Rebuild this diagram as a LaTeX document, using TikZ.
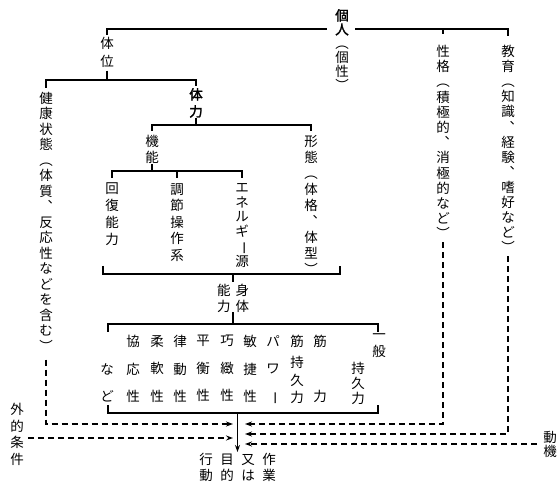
\documentclass[tikz,border=0pt]{standalone}
\usepackage{fontspec}
\usepackage{graphicx}
\usetikzlibrary{arrows.meta}
\newfontfamily\jp{Noto Sans CJK JP}
\newfontfamily\jpb[FakeBold=2]{Noto Sans CJK JP}
\newcommand\VL{\rotatebox[origin=c]{-90}{ー}}
\makeatletter
\newcommand\vt[2][15]{\vbox{\baselineskip=#1pt\lineskiplimit=-100pt\lineskip=0pt\vt@loop#2\relax}}
\def\vt@loop#1{\ifx\relax#1\else\hbox to 1em{\hss#1\hss}\expandafter\vt@loop\fi}
\makeatother
\begin{document}
\begin{tikzpicture}[x=1pt,y=-1pt,
  lab/.style={inner sep=0pt, anchor=north, font=\jp\fontsize{13.5}{15}\selectfont},
  ln/.style={line width=1.2pt},
  dsh/.style={line width=1.3pt, dash pattern=on 6pt off 4pt},
  tip/.style={-{Stealth[length=7pt,width=5pt]}}]
\useasboundingbox[fill=white] (0,0) rectangle (560,486);

% level coordinates
\coordinate (L0) at (0,29);
\coordinate (L1) at (0,80);
\coordinate (L2) at (0,125);
\coordinate (L3) at (0,171);
\coordinate (L4) at (0,274);
\coordinate (L5) at (0,324);
\coordinate (L6) at (0,413);
\coordinate (g1) at (327,29);
\coordinate (g2) at (355,29);
\coordinate (b1) at (103,266);
\coordinate (b2) at (340,266);
\coordinate (bx1) at (108,332);
\coordinate (bx2) at (378,332);
\coordinate (bx3) at (108,405);
\coordinate (bx4) at (378,405);
\coordinate (jl1) at (233,424);
\coordinate (jl2) at (233,438);
\coordinate (jr1) at (245,424);
\coordinate (jr2) at (245,434);
\coordinate (jr3) at (245,444);

% labels
\node[lab] (kojin) at (342,9) {\vt[14]{{\jpb 個}{\jpb 人}︵個性︶}};
\node[lab] (seikaku) at (443,45) {\vt[15.2]{性格︵積極的︑消極的など︶}};
\node[lab] (kyoiku) at (508,45) {\vt[15.1]{教育︵知識︑経験︑嗜好など︶}};
\node[lab] (taii) at (107,37) {\vt[18]{体位}};
\node[lab] (kenko) at (46,92) {\vt[15.5]{健康状態︵体質︑反応性などを含む︶}};
\node[lab] (tairyoku) at (196,88) {\vt[17]{{\jpb 体}{\jpb 力}}};
\node[lab] (kino) at (152,135) {\vt[16]{機能}};
\node[lab] (keitai) at (311,135) {\vt[16]{形態︵体格︑体型︶}};
\node[lab] (kaifuku) at (112,183) {\vt[17]{回復能力}};
\node[lab] (chosetsu) at (177,183) {\vt[16.5]{調節操作系}};
\node[lab] (energy) at (242,183) {\vt[14.8]{エネルギ\VL 源}};
\node[lab] (shintai) at (233,284) {\hbox{\vt[15.5]{能力}\hspace{5pt}\vt[15.5]{身体}}};

% box contents
\node[lab] (nado) at (107,363) {\vt[27.5]{など}};
\node[lab] (kyoo) at (133,335) {\vt[27.5]{協応性}};
\node[lab] (junan) at (157,335) {\vt[27.5]{柔軟性}};
\node[lab] (ritsudo) at (180,335) {\vt[27.5]{律動性}};
\node[lab] (heiko) at (203,335) {\vt[27.5]{平衡性}};
\node[lab] (kochi) at (227,335) {\vt[27.5]{巧緻性}};
\node[lab] (binsho) at (250,335) {\vt[27.5]{敏捷性}};
\node[lab] (power) at (273,335) {\vt[27.5]{パワ\VL}};
\node[lab] (kin1) at (297,335) {\vt{筋}};
\node[lab] (kin1b) at (297,356) {\vt[17.5]{持久力}};
\node[lab] (kinryoku) at (320,335) {\vt[55]{筋力}};
\node[lab] (ippan) at (379,333) {\vt[17]{一般}};
\node[lab] (jikyu) at (358,362) {\vt[15]{持久力}};

% bottom
\node[lab] (goal) at (237.5,453) {\hbox{\vt[16]{行動}\hspace{7.5pt}\vt[16]{目的}\hspace{7.5pt}\vt[16]{又は}\hspace{7.5pt}\vt[16]{作業}}};
\node[lab] (gaiteki) at (17,403) {\vt[16.7]{外的条件}};
\node[lab] (douki) at (550,431) {\vt[14]{動機}};

% tree connectors
\draw[ln] ([yshift=2pt]taii.north) |- (g1);
\draw[ln] (g2) -| ([yshift=9pt]kyoiku.north);
\draw[ln] ([yshift=11pt]seikaku.north) -- (seikaku.north |- L0);

\draw[ln] ([yshift=-3pt]taii.south) -- (taii.south |- L1);
\draw[ln] ([yshift=4pt]kenko.north) -- (kenko.north |- L1) -- (tairyoku.north |- L1) -- ([yshift=2pt]tairyoku.north);

\draw[ln] (tairyoku.south) -- (tairyoku.south |- L2);
\draw[ln] ([yshift=4pt]kino.north) -- (kino.north |- L2) -- (keitai.north |- L2) -- ([yshift=4pt]keitai.north);

\draw[ln] (kino.south) -- (kino.south |- L3);
\draw[ln] ([yshift=5pt]kaifuku.north) -- (kaifuku.north |- L3) -- (energy.north |- L3) -- ([yshift=5pt]energy.north);
\draw[ln] ([yshift=5pt]chosetsu.north) -- (chosetsu.north |- L3);

\draw[ln] (b1) -- (b1 |- L4) -- (b2 |- L4) -- (b2);
\draw[ln] (shintai.north |- L4) -- ([yshift=2pt]shintai.north);

\draw[ln] (shintai.south) -- (shintai.south |- L5);
\draw[ln] (bx1) -- (bx1 |- L5) -- (bx2 |- L5) -- (bx2);
\draw[ln] (bx3) -- (bx3 |- L6) -- (bx4 |- L6) -- (bx4);

% result arrow
\draw[ln,tip] (goal.north |- L6) -- ([yshift=1pt]goal.north);

% dashed influences
\draw[dsh,tip] ([yshift=-8pt]kenko.south) |- (jl1);
\draw[dsh,tip] ([xshift=4pt]gaiteki.east |- jl2) -- (jl2);
\draw[dsh,tip] ([yshift=-3pt]seikaku.south) |- (jr1);
\draw[dsh,tip] ([yshift=-3pt]kyoiku.south) |- (jr2);
\draw[dsh,tip] ([xshift=-6pt]douki.west |- jr3) -- (jr3);
\end{tikzpicture}
\end{document}
